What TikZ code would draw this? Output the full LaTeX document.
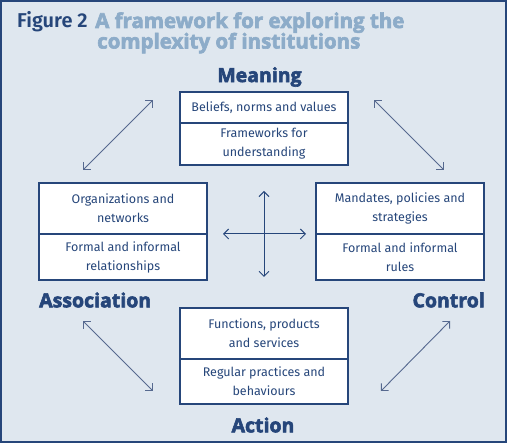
\documentclass[tikz,border=0pt]{standalone}
\usepackage{fontspec}
\setmainfont{Fira Sans}
\newfontfamily\headfontbase[BoldFeatures={FakeBold=3}]{Open Sans}
\newcommand\headfont{\headfontbase\bfseries}
\newfontfamily\titlefont{Fira Sans SemiBold}
\usetikzlibrary{arrows.meta}
\definecolor{bg}{HTML}{DFE7EF}
\definecolor{dblue}{HTML}{26467A}
\definecolor{lblue}{HTML}{8DACC9}
\definecolor{agray}{HTML}{56698F}
\tikzset{
  sect/.style={draw=dblue, line width=1.1pt, fill=white, minimum width=168pt, inner sep=0pt, align=center, text=dblue, font=\fontsize{12.5}{19}\selectfont},
  head/.style={text=dblue, font=\headfont\fontsize{19.5}{22}\selectfont, inner sep=0pt},
  ttl/.style={anchor=base west, inner sep=0pt, text=lblue, font=\headfont\fontsize{20.5}{22}\selectfont},
  diag/.style={draw=agray, line width=0.9pt, {Straight Barb[length=5pt,width=10pt]}-{Straight Barb[length=5pt,width=10pt]}},
  cross/.style={draw=dblue, line width=1pt, {Straight Barb[length=5pt,width=10pt]}-{Straight Barb[length=5pt,width=10pt]}}
}
\begin{document}
\begin{tikzpicture}[x=1pt,y=-1pt]
\useasboundingbox (0,0) rectangle (507,443);
\fill[bg] (0,0) rectangle (507,443);
\draw[dblue, line width=2pt] (1,1) rectangle (506,442);
% title
\node[anchor=base west, inner sep=0pt, text=dblue, font=\titlefont\fontsize{20}{22}\selectfont] (fig) at (17,28) {Figure 2};
\node[ttl] (t1) at (95,28) {A framework for exploring the};
\node[ttl] (t2) at (97,48.5) {complexity of institutions};
% headings
\node[head] (meaning) at (259.5,77) {Meaning};
\node[head, anchor=west] (assoc) at (39,300) {Association};
\node[head, anchor=east] (control) at (485,300) {Control};
\node[head] (action) at (263,425) {Action};
% top box
\node[sect, minimum height=31pt] (m1) at (264,107.5) {Beliefs, norms and values};
\node[sect, minimum height=42pt] (m2) at (264,144) {Frameworks for\\understanding};
% left box
\node[sect, minimum height=51pt] (a1) at (123,208.5) {Organizations and\\networks};
\node[sect, minimum height=46pt] (a2) at (123,257) {Formal and informal\\relationships};
% right box
\node[sect, minimum height=51pt] (c1) at (400,208.5) {Mandates, policies and\\strategies};
\node[sect, minimum height=46pt] (c2) at (400,257) {Formal and informal\\rules};
% bottom box
\node[sect, minimum height=51pt] (x1) at (264,333.5) {Functions, products\\and services};
\node[sect, minimum height=45pt] (x2) at (264,381.5) {Regular practices and\\behaviours};
% diagonal arrows
\coordinate (tl1) at (83,170); \coordinate (tl2) at (153,100);
\coordinate (tr1) at (374,100); \coordinate (tr2) at (444,170);
\coordinate (bl1) at (83,321); \coordinate (bl2) at (153,391);
\coordinate (br1) at (381,391); \coordinate (br2) at (450,321);
\draw[diag] (tl1) -- (tl2);
\draw[diag] (tr1) -- (tr2);
\draw[diag] (bl1) -- (bl2);
\draw[diag] (br1) -- (br2);
% cross
\coordinate (cu) at (264,191); \coordinate (cd) at (264,277);
\coordinate (cl) at (223,234); \coordinate (cr) at (306,234);
\draw[cross] (cu) -- (cd);
\draw[cross] (cl) -- (cr);
\end{tikzpicture}
\end{document}
